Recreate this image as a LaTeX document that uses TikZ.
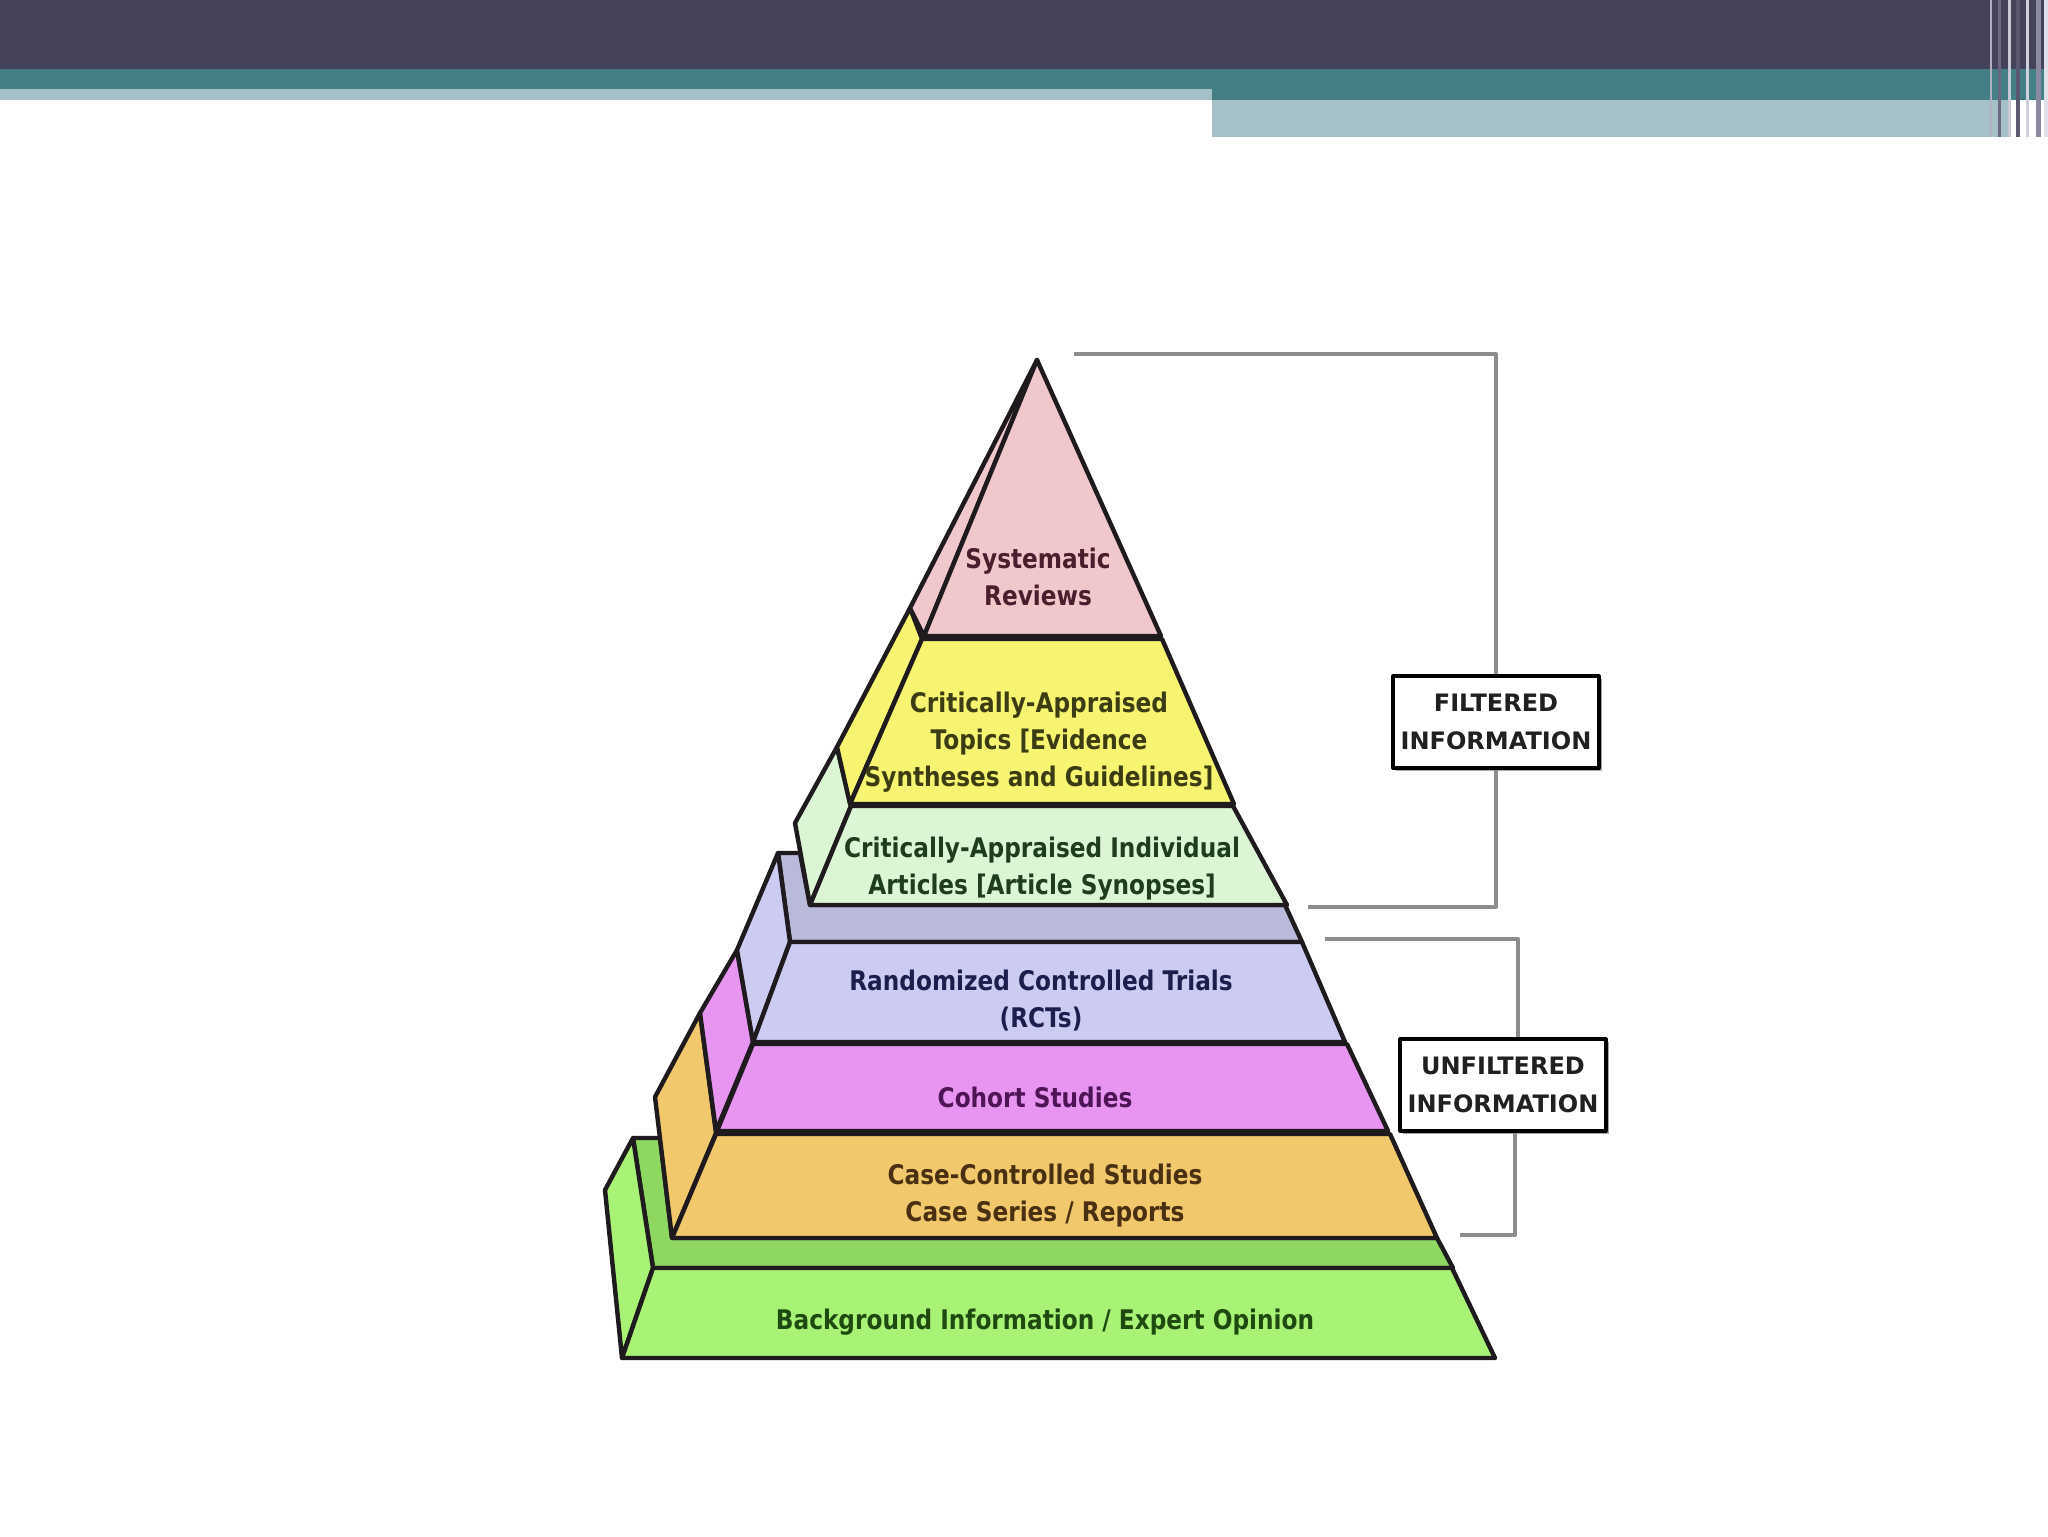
\documentclass[tikz,border=0pt]{standalone}
\usepackage{fontspec}
\usetikzlibrary{positioning, calc, shadows}
\newfontfamily\tierfont{DejaVu Sans}[FakeStretch=0.86]
\newfontfamily\labelfont{DejaVu Sans}

\definecolor{hdrdark}{HTML}{45435A}
\definecolor{hdrteal}{HTML}{437F84}
\definecolor{hdrlight}{HTML}{A5C0C7}
\definecolor{edge}{HTML}{1E1A1E}
\definecolor{pinkfill}{HTML}{F0C8CC}
\definecolor{yellowfill}{HTML}{F6F470}
\definecolor{ltgreenfill}{HTML}{DCF5D4}
\definecolor{lavfill}{HTML}{CCCCF2}
\definecolor{lavledge}{HTML}{B9B9DA}
\definecolor{magfill}{HTML}{E895F2}
\definecolor{orangefill}{HTML}{F2C86C}
\definecolor{greenfill}{HTML}{A8F275}
\definecolor{greenledge}{HTML}{8ED862}
\definecolor{pinktext}{HTML}{4A1E2C}
\definecolor{yellowtext}{HTML}{3C3C14}
\definecolor{ltgreentext}{HTML}{1E3C1E}
\definecolor{lavtext}{HTML}{1E1E4E}
\definecolor{magtext}{HTML}{4E1456}
\definecolor{orangetext}{HTML}{4A3012}
\definecolor{greentext}{HTML}{1E4A12}
\definecolor{boxtext}{HTML}{202020}
\definecolor{bracketgray}{HTML}{8C8C8C}

\begin{document}
\begin{tikzpicture}[x=0.5pt, y=-0.5pt, line join=round,
    tier/.style={draw=edge, line width=2.2pt},
    tiertext/.style={font=\tierfont\bfseries\fontsize{13.5}{18.5}\selectfont, align=center, inner sep=0pt},
    infobox/.style={draw=black, line width=1.6pt, fill=white, minimum width=103pt, minimum height=46pt,
        inner sep=2pt, align=center, text=boxtext, font=\labelfont\bfseries\fontsize{12}{19}\selectfont,
        drop shadow={shadow xshift=1.5pt, shadow yshift=-1.5pt, fill=gray!70, opacity=1}},
    bracket/.style={draw=bracketgray, line width=2pt}]
    \useasboundingbox (0,0) rectangle (2048,1536);
    \fill[white] (0,0) rectangle (2048,1536);

    % header bands
    \fill[hdrdark] (0,0) rectangle (2048,69);
    \fill[hdrteal] (0,69) rectangle (2048,100);
    \fill[hdrlight] (0,89) rectangle (1212,100);
    \fill[hdrlight] (1212,100) rectangle (2011,137);
    \foreach \xs/\w/\c in {1990/2/B0B0C0, 1998/3/6A6880, 2008/3/C8C8D4, 2016/4/5A5870,
                           2026/3/D0D0DC, 2036/5/8A8AA0, 2044/4/E0E0E8} {
        \definecolor{stripe}{HTML}{\c}
        \fill[stripe] (\xs,0) rectangle (\xs+\w,137);
    }

    % base block
    \filldraw[tier, fill=greenledge] (633,1138) -- (660,1138) -- (672,1238) -- (1437,1238) -- (1453,1268) -- (653,1268) -- cycle;
    \filldraw[tier, fill=greenfill] (633,1138) -- (653,1268) -- (622,1358) -- (605,1190) -- cycle;
    \filldraw[tier, fill=greenfill] (653,1268) -- (1452,1268) -- (1495,1358) -- (622,1358) -- cycle;

    % unfiltered block
    \filldraw[tier, fill=orangefill] (700,1013) -- (716,1133) -- (672,1238) -- (655,1097) -- cycle;
    \filldraw[tier, fill=orangefill] (716,1134) -- (1390,1134) -- (1437,1238) -- (672,1238) -- cycle;
    \filldraw[tier, fill=magfill] (737,950) -- (753,1042) -- (716,1131) -- (700,1013) -- cycle;
    \filldraw[tier, fill=magfill] (753,1044) -- (1347,1044) -- (1388,1131) -- (717,1131) -- cycle;
    \filldraw[tier, fill=lavledge] (778,853) -- (800,853) -- (810,905) -- (1285,905) -- (1302,942) -- (790,942) -- cycle;
    \filldraw[tier, fill=lavfill] (778,853) -- (790,942) -- (753,1042) -- (737,950) -- cycle;
    \filldraw[tier, fill=lavfill] (790,942) -- (1302,942) -- (1345,1042) -- (753,1042) -- cycle;

    % filtered block
    \filldraw[tier, fill=ltgreenfill] (837,747) -- (851,806) -- (810,905) -- (795,823) -- cycle;
    \filldraw[tier, fill=ltgreenfill] (851,806) -- (1233,806) -- (1287,905) -- (810,905) -- cycle;
    \filldraw[tier, fill=yellowfill] (910,608) -- (922,639) -- (850,804) -- (837,747) -- cycle;
    \filldraw[tier, fill=yellowfill] (922,639) -- (1162,639) -- (1234,804) -- (850,804) -- cycle;
    \filldraw[tier, fill=pinkfill] (1037,360) -- (924,636) -- (910,608) -- cycle;
    \filldraw[tier, fill=pinkfill] (1037,360) -- (1161,636) -- (924,636) -- cycle;

    \node[tiertext, text=pinktext] (sysrev) at (1038,577) {Systematic\\Reviews};
    \node[tiertext, text=yellowtext] (topics) at (1039,742) {Critically-Appraised\\Topics [Evidence\\Syntheses and Guidelines]};
    \node[tiertext, text=ltgreentext] (articles) at (1042,869) {Critically-Appraised Individual\\Articles [Article Synopses]};
    \node[tiertext, text=lavtext] (rcts) at (1041,1001) {Randomized Controlled Trials\\(RCTs)};
    \node[tiertext, text=magtext] (cohort) at (1035,1097) {Cohort Studies};
    \node[tiertext, text=orangetext] (cases) at (1045,1196) {Case-Controlled Studies\\Case Series / Reports};
    \node[tiertext, text=greentext] (background) at (1045,1322) {Background Information / Expert Opinion};

    % brackets
    \coordinate (ftop) at (1074,354);
    \coordinate (fbot) at (1308,907);
    \coordinate (utop) at (1325,939);
    \coordinate (ubot) at (1460,1235);
    \node[infobox] (filt) at (1496,722) {FILTERED\\INFORMATION};
    \node[infobox] (unfilt) at (1503,1085) {UNFILTERED\\INFORMATION};
    \draw[bracket] (ftop) -| (filt.north);
    \draw[bracket] (filt.south) |- (fbot);
    \draw[bracket] (utop) -| ($(unfilt.north)+(15,0)$);
    \draw[bracket] ($(unfilt.south)+(12,0)$) |- (ubot);
\end{tikzpicture}
\end{document}
